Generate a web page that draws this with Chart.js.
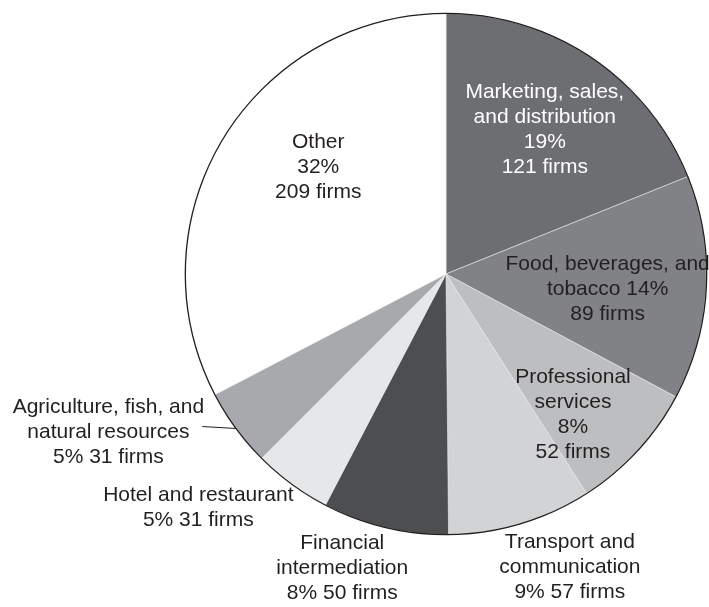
<!DOCTYPE html>
<html>
<head>
<meta charset="utf-8">
<script src="https://cdn.jsdelivr.net/npm/chart.js@4.4.0/dist/chart.umd.min.js"></script>
<style>
  html, body { margin: 0; padding: 0; background: #fff; }
  #chart { display: block; }
</style>
</head>
<body>
<canvas id="chart" width="709" height="607"></canvas>
<script>
// sectors, clockwise from 12 o'clock
const categories = ['Marketing, sales, and distribution', 'Food, beverages, and tobacco', 'Professional services',
    'Transport and communication', 'Financial intermediation', 'Hotel and restaurant',
    'Agriculture, fish, and natural resources', 'Other'];
const firms = [121, 89, 52, 57, 50, 31, 31, 209];
const percents = [19, 14, 8, 9, 8, 5, 5, 32];
const labelLines = [
    ['Marketing, sales,', 'and distribution', '19%', '121 firms'],
    ['Food, beverages, and', 'tobacco 14%', '89 firms'],
    ['Professional', 'services', '8%', '52 firms'],
    ['Transport and', 'communication', '9% 57 firms'],
    ['Financial', 'intermediation', '8% 50 firms'],
    ['Hotel and restaurant', '5% 31 firms'],
    ['Agriculture, fish, and', 'natural resources', '5% 31 firms'],
    ['Other', '32%', '209 firms']
];

const colors = ['#6d6e71', '#808285', '#bcbec0', '#d1d3d4', '#4d4e50', '#e6e7e8', '#a7a9ac', '#ffffff'];
// label anchors relative to pie centre, in radius units
const labelPos = [[0.379, -0.554], [0.62, 0.06], [0.487, 0.538], [0.475, 1.123],
    [-0.398, 1.13], [-0.95, 0.895], [-1.295, 0.605], [-0.49, -0.41]];

const labelPlugin = {
    id: 'pieLabels',
    afterDatasetsDraw(chart) {
        const ctx = chart.ctx;
        const arc = chart.getDatasetMeta(0).data[0];
        const cx = arc.x, cy = arc.y, r = arc.outerRadius;
        ctx.save();
        // outer rim
        ctx.beginPath();
        ctx.arc(cx, cy, r, 0, Math.PI * 2);
        ctx.strokeStyle = '#231f20';
        ctx.lineWidth = 1.3;
        ctx.stroke();

        // leader for agriculture
        const ly = cy + 0.585 * r;
        ctx.beginPath();
        ctx.moveTo(cx - 0.935 * r, ly);
        ctx.lineTo(cx - Math.sqrt(r * r - (ly + 2 - cy) * (ly + 2 - cy)), ly + 2);
        ctx.lineWidth = 1;
        ctx.stroke();

        ctx.font = '21px "Liberation Sans", Arial, sans-serif';
        ctx.textAlign = 'center';
        ctx.textBaseline = 'middle';
        labelLines.forEach((lines, i) => {
            const x = cx + labelPos[i][0] * r;
            const y = cy + labelPos[i][1] * r;
            const lh = 25;
            const y0 = y - (lines.length - 1) * lh / 2;
            ctx.fillStyle = i === 0 ? '#ffffff' : '#231f20';
            lines.forEach((t, j) => ctx.fillText(t, x, y0 + j * lh));
        });
        ctx.restore();
    }
};

new Chart(document.getElementById('chart'), {
    type: 'pie',
    data: {
        labels: categories,
        datasets: [{
            data: firms,
            backgroundColor: colors,
            borderColor: '#e6e7e8',
            borderWidth: 0.6
        }]
    },
    options: {
        responsive: false,
        animation: false,
        devicePixelRatio: 1,
        layout: { padding: { left: 185, right: 2, top: 13, bottom: 72 } },
        plugins: {
            legend: { display: false },
            tooltip: { enabled: false }
        }
    },
    plugins: [labelPlugin]
});
</script>
</body>
</html>
